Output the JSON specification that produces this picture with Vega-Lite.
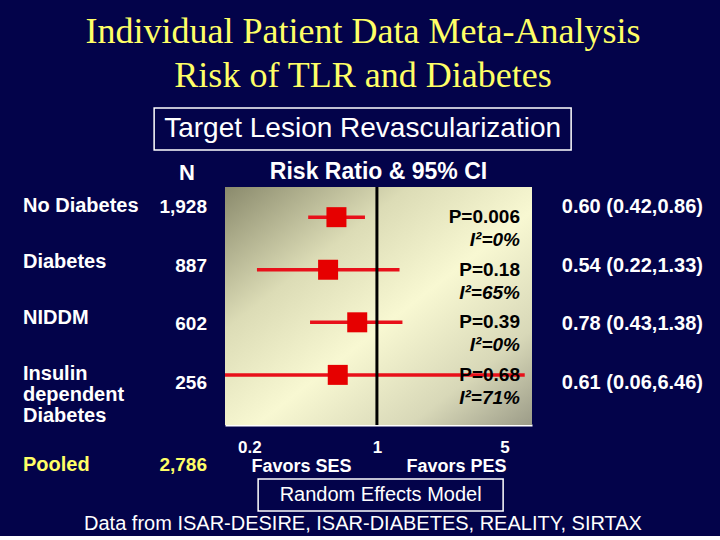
{
  "$schema": "https://vega.github.io/schema/vega-lite/v6.json",
  "background": "#03034a",
  "padding": {"left": 23, "right": 17, "top": 14, "bottom": 2},
  "config": {
    "view": {"stroke": null},
    "font": "Liberation Sans",
    "title": {"color": "white", "font": "Liberation Sans"}
  },
  "datasets": {
    "rows": [
      {"group": "No Diabetes", "label": "No Diabetes", "n": "1,928", "rr": 0.60, "lo": 0.42, "hi": 0.86, "p": "P=0.006", "i2": "I²=0%", "ci": "0.60 (0.42,0.86)"},
      {"group": "Diabetes", "label": "Diabetes", "n": "887", "rr": 0.54, "lo": 0.22, "hi": 1.33, "p": "P=0.18", "i2": "I²=65%", "ci": "0.54 (0.22,1.33)"},
      {"group": "NIDDM", "label": "NIDDM", "n": "602", "rr": 0.78, "lo": 0.43, "hi": 1.38, "p": "P=0.39", "i2": "I²=0%", "ci": "0.78 (0.43,1.38)"},
      {"group": "Insulin dependent Diabetes", "label": "Insulin\ndependent\nDiabetes", "n": "256", "rr": 0.61, "lo": 0.06, "hi": 6.46, "p": "P=0.68", "i2": "I²=71%", "ci": "0.61 (0.06,6.46)"}
    ],
    "pooled": [{"group": "Pooled", "n": "2,786"}]
  },
  "title": {
    "text": ["Individual Patient Data Meta-Analysis", "Risk of TLR and Diabetes"],
    "font": "Liberation Serif", "fontSize": 36, "fontWeight": "normal",
    "color": "#ffff66", "lineHeight": 44, "anchor": "middle", "offset": 12
  },
  "center": true,
  "spacing": 9,
  "vconcat": [
    {
      "width": 417, "height": 42,
      "view": {"stroke": "white", "strokeWidth": 1.5},
      "data": {"values": [{"t": "Target Lesion Revascularization"}]},
      "mark": {"type": "text", "fontSize": 28, "color": "white"},
      "encoding": {"text": {"field": "t"}}
    },
    {
      "center": true,
      "spacing": 2,
      "vconcat": [
        {
          "spacing": 18,
          "hconcat": [
            {
              "width": 184, "height": 280,
              "title": {"text": "N", "anchor": "end", "dx": -12, "fontSize": 22, "fontWeight": "bold", "color": "white", "offset": 2},
              "resolve": {"scale": {"y": "independent"}},
              "layer": [
                {
                  "data": {"name": "rows"},
                  "mark": {"type": "text", "align": "left", "fontSize": 20, "fontWeight": "bold", "color": "white", "lineBreak": "\n", "lineHeight": 21},
                  "encoding": {
                    "x": {"datum": 0, "type": "quantitative", "scale": {"domain": [0, 1], "nice": false}, "axis": null},
                    "y": {"field": "group", "type": "nominal", "scale": {"domain": ["No Diabetes", "Diabetes", "NIDDM", "Insulin dependent Diabetes"], "padding": 1.045, "align": 0.174}, "axis": null},
                    "text": {"field": "label"}
                  }
                },
                {
                  "data": {"name": "rows"},
                  "mark": {"type": "text", "align": "right", "fontSize": 19, "fontWeight": "bold", "color": "white"},
                  "encoding": {
                    "x": {"datum": 1, "type": "quantitative"},
                    "y": {"field": "group", "type": "nominal", "scale": {"domain": ["No Diabetes", "Diabetes", "NIDDM", "Insulin dependent Diabetes"], "padding": 0.885, "align": 0.192}, "axis": null},
                    "text": {"field": "n"}
                  }
                },
                {
                  "data": {"name": "pooled"},
                  "mark": {"type": "text", "align": "left", "fontSize": 20, "fontWeight": "bold", "color": "#ffff66"},
                  "encoding": {
                    "x": {"datum": 0, "type": "quantitative"},
                    "y": {"field": "group", "type": "nominal", "scale": {"domain": ["Pooled"], "padding": 0, "align": 0.993}, "axis": null},
                    "text": {"field": "group"}
                  }
                },
                {
                  "data": {"name": "pooled"},
                  "mark": {"type": "text", "align": "right", "fontSize": 19, "fontWeight": "bold", "color": "#ffff66"},
                  "encoding": {
                    "x": {"datum": 1, "type": "quantitative"},
                    "y": {"field": "group", "type": "nominal", "scale": {"domain": ["Pooled"], "padding": 0, "align": 0.993}, "axis": null},
                    "text": {"field": "n"}
                  }
                }
              ]
            },
            {
              "width": 307, "height": 238,
              "data": {"name": "rows"},
              "title": {"text": "Risk Ratio & 95% CI", "anchor": "middle", "fontSize": 23, "fontWeight": "bold", "color": "white", "offset": 2},
              "layer": [
                {
                  "data": {"values": [{}]},
                  "mark": {
                    "type": "rect",
                    "color": {
                      "gradient": "linear", "x1": 0, "y1": 0, "x2": 1, "y2": 1,
                      "stops": [
                        {"offset": 0, "color": "#8a8a6c"},
                        {"offset": 0.3, "color": "#dcdcb6"},
                        {"offset": 0.55, "color": "#f8f8d2"},
                        {"offset": 0.8, "color": "#d8d8b8"},
                        {"offset": 1, "color": "#9c9c88"}
                      ]
                    }
                  },
                  "encoding": {}
                },
                {
                  "mark": {"type": "rule", "color": "#e8101a", "strokeWidth": 3.5, "clip": true},
                  "encoding": {
                    "x": {
                      "field": "lo", "type": "quantitative",
                      "scale": {"type": "log", "domain": [0.147, 7.08], "nice": false},
                      "axis": {
                        "values": [0.2, 1, 5], "format": "~g",
                        "title": "Favors SES\u00a0\u00a0\u00a0\u00a0\u00a0\u00a0\u00a0\u00a0\u00a0\u00a0\u00a0Favors PES",
                        "labelColor": "white", "labelFontSize": 17, "labelFontWeight": "bold", "labelPadding": 14, "labelFlush": false,
                        "ticks": false, "grid": false, "domainColor": "white", "domainWidth": 2,
                        "titleColor": "white", "titleFontSize": 18, "titleFontWeight": "bold", "titlePadding": 2
                      }
                    },
                    "x2": {"field": "hi"},
                    "y": {"field": "group", "type": "nominal", "scale": {"domain": ["No Diabetes", "Diabetes", "NIDDM", "Insulin dependent Diabetes"], "padding": 0.527, "align": 0.32}, "axis": null}
                  }
                },
                {
                  "data": {"values": [{}]},
                  "mark": {"type": "rule", "color": "black", "strokeWidth": 3},
                  "encoding": {"x": {"datum": 1, "type": "quantitative"}}
                },
                {
                  "mark": {"type": "square", "size": 400, "color": "#e60000", "opacity": 1, "filled": true},
                  "encoding": {
                    "x": {"field": "rr", "type": "quantitative"},
                    "y": {"field": "group", "type": "nominal"}
                  }
                },
                {
                  "mark": {"type": "text", "align": "right", "dx": -12, "fontSize": 19, "fontWeight": "bold", "color": "black"},
                  "encoding": {
                    "x": {"value": "width"},
                    "y": {"field": "group", "type": "nominal"},
                    "text": {"field": "p"}
                  }
                },
                {
                  "mark": {"type": "text", "align": "right", "dx": -12, "dy": 23, "fontSize": 19, "fontWeight": "bold", "fontStyle": "italic", "color": "black"},
                  "encoding": {
                    "x": {"value": "width"},
                    "y": {"field": "group", "type": "nominal"},
                    "text": {"field": "i2"}
                  }
                }
              ]
            },
            {
              "width": 153, "height": 238,
              "data": {"name": "rows"},
              "title": {"text": "\u00a0", "fontSize": 22, "fontWeight": "bold", "color": "white", "offset": 2},
              "mark": {"type": "text", "align": "right", "fontSize": 20, "fontWeight": "bold", "color": "white"},
              "encoding": {
                "x": {"datum": 1, "type": "quantitative", "scale": {"domain": [0, 1], "nice": false}, "axis": null},
                "y": {"field": "group", "type": "nominal", "scale": {"domain": ["No Diabetes", "Diabetes", "NIDDM", "Insulin dependent Diabetes"], "padding": 0.527, "align": 0.32}, "axis": null},
                "text": {"field": "ci"}
              }
            }
          ]
        },
        {
          "spacing": 20,
          "hconcat": [
            {
              "width": 15, "height": 32,
              "data": {"values": [{}]},
              "mark": {"type": "text", "text": ""}
            },
            {
              "width": 245, "height": 32,
              "view": {"stroke": "white", "strokeWidth": 1.5},
              "data": {"values": [{"t": "Random Effects Model"}]},
              "mark": {"type": "text", "fontSize": 20, "color": "white"},
              "encoding": {"text": {"field": "t"}}
            }
          ]
        },
        {
          "width": 560, "height": 20,
          "data": {"values": [{"t": "Data from ISAR-DESIRE, ISAR-DIABETES, REALITY, SIRTAX"}]},
          "mark": {"type": "text", "fontSize": 20, "color": "white"},
          "encoding": {"text": {"field": "t"}}
        }
      ]
    }
  ]
}
